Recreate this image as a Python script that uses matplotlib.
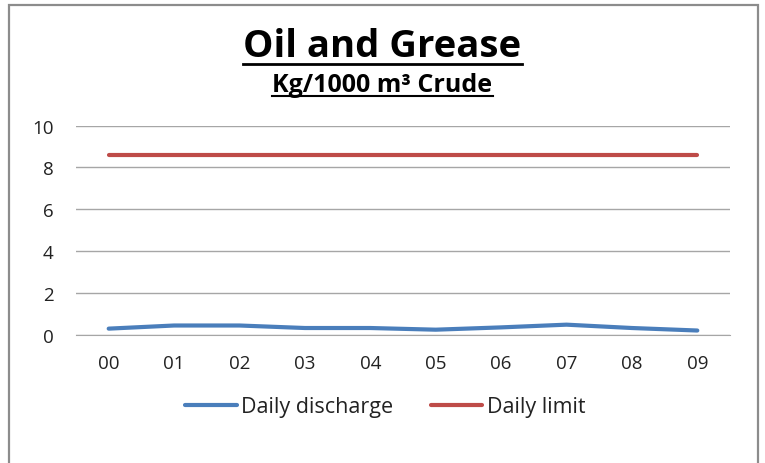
import matplotlib.pyplot as plt
from matplotlib.lines import Line2D
from matplotlib.patches import Rectangle

plt.rcParams['font.family'] = ['Open Sans', 'DejaVu Sans']

# data
years = ['00', '01', '02', '03', '04', '05', '06', '07', '08', '09']
daily_discharge = [0.29, 0.44, 0.44, 0.32, 0.32, 0.24, 0.35, 0.48, 0.32, 0.20]
daily_limit = [8.58] * len(years)
y_ticks = [0, 2, 4, 6, 8, 10]

fig = plt.figure(figsize=(7.65, 4.64), dpi=100)
ax = fig.add_axes([76 / 765, 1 - 335.7 / 464, (730 - 76) / 765, (335.7 - 126.7) / 464])

x = range(len(years))
ax.plot(x, daily_discharge, color='#4a7ebb', lw=3, solid_capstyle='round', label='Daily discharge')
ax.plot(x, daily_limit, color='#be4b48', lw=3, solid_capstyle='round', label='Daily limit')

ax.set_xlim(-0.5, len(years) - 0.5)
ax.set_ylim(0, 10)
ax.set_yticks(y_ticks)
ax.set_xticks(list(x))
ax.set_xticklabels(years)
ax.yaxis.grid(True, color='#a6a6a6', lw=1)
ax.set_axisbelow(True)
for s in ['top', 'right', 'left']:
    ax.spines[s].set_visible(False)
ax.spines['bottom'].set_color('#a6a6a6')
ax.tick_params(length=0, labelsize=13.5, colors='#222222')
ax.tick_params(axis='y', pad=16)
ax.tick_params(axis='x', pad=14)

ax.legend(loc='center', bbox_to_anchor=(385 / 765, 1 - 408 / 464), bbox_transform=fig.transFigure,
          ncol=2, frameon=False, fontsize=15.5, handlelength=2.4, handletextpad=0.2,
          columnspacing=1.75, labelcolor='#222222')

# titles with underline
t1 = fig.text(0.5, 1 - 47 / 464, 'Oil and Grease', ha='center', va='center',
              fontsize=27.5, fontweight='bold')
t2 = fig.text(0.5, 1 - 86 / 464, 'Kg/1000 m³ Crude', ha='center', va='center',
              fontsize=18, fontweight='bold')
fig.canvas.draw()
r = fig.canvas.get_renderer()
for t, y_px, w in [(t1, 65, 2), (t2, 97, 1.5)]:
    bb = t.get_window_extent(r)
    fig.add_artist(Line2D([bb.x0 / 765, bb.x1 / 765], [1 - y_px / 464] * 2,
                          color='black', lw=w, transform=fig.transFigure))

# chart border (bottom edge off-canvas)
fig.add_artist(Rectangle((8.5 / 765, -0.05), (757.5 - 8.5) / 765, 1.05 - 5.5 / 464,
                         transform=fig.transFigure, fill=False, edgecolor='#8c8c8c', lw=1.6))

fig.savefig('out.png', dpi=100)
